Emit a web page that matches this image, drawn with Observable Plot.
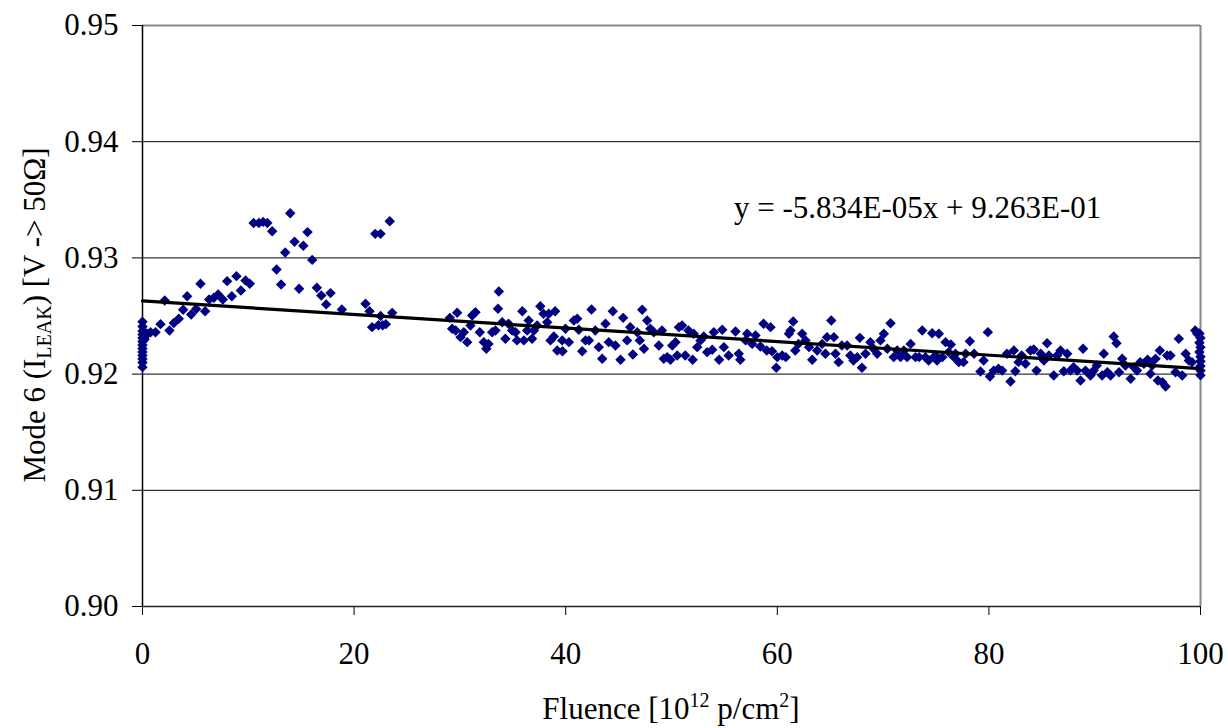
<!DOCTYPE html>
<html>
<head>
<meta charset="utf-8">
<script src="https://cdn.jsdelivr.net/npm/d3@7"></script>
<script src="https://cdn.jsdelivr.net/npm/@observablehq/plot@0.6"></script>
<style>
  html, body { margin: 0; padding: 0; background: #fff; }
  #chart { width: 1228px; height: 728px; }
</style>
</head>
<body>
<div id="chart"></div>
<script>
// ---- data ----
const fluence = [
  0,0,0,0,0,0,0,0,0,0,0,0,0,0.2,0.3,0.4,
  0.76,1.23,1.7,2.1,2.55,2.96,3.43,3.84,4.22,4.6,5.07,5.48,5.92,6.3,6.74,7.15,7.59,8.0,8.44,8.88,9.3,9.74,10.14,
  10.5,11.0,11.4,11.8,12.26,12.67,13.1,13.49,13.96,14.37,14.8,15.2,15.6,16.04,16.48,16.9,17.36,17.77,18.84,
  21.08,21.46,21.7,22.0,22.5,22.3,22.7,23.0,23.37,23.6,22.5,
  29.05,29.74,29.27,29.6,30.06,30.69,30.37,31.0,31.16,31.47,31.88,32.26,32.5,32.7,33.05,33.36,33.68,33.6,34.0,34.3,34.6,34.94,35.4,35.26,35.9,36.04,36.36,36.5,36.82,37.0,37.3,37.6,37.9,38.25,38.4,39.0,38.56,38.88,39.2,39.7,39.98,39.67,
  40.3,40.77,41.09,41.24,41.56,41.87,42.2,42.44,42.8,43.13,43.45,43.76,44.07,44.45,44.7,45.18,45.43,45.8,46.1,46.35,46.76,47.0,47.23,47.7,48.0,47.4,48.33,48.8,49.1,49.27,49.6,
  49.9,50.07,50.38,50.54,50.7,51.0,51.3,51.6,52.0,52.1,52.43,52.74,53.05,53.37,53.85,54.0,54.5,54.8,54.95,55.4,56.05,56.36,56.5,57.0,57.15,57.63,57.94,58.4,58.7,59.0,59.36,59.5,59.9,
  60.0,60.46,60.8,61.1,61.25,61.5,61.7,62.0,62.35,62.67,63.0,63.3,63.77,64.24,64.55,64.7,65.1,65.35,65.5,65.8,66.1,66.6,66.9,67.2,67.55,67.8,68.0,68.34,68.8,69.1,69.44,69.75,
  70.07,70.4,70.7,71.0,71.33,71.65,71.96,72.27,72.6,73.06,73.4,73.7,74.0,74.3,74.64,74.95,75.27,75.6,75.9,76.2,
  74.8,75.1,76.4,76.7,76.84,77.16,77.6,77.8,78.2,78.6,79.2,79.5,79.9,
  80.1,80.46,80.9,81.26,81.7,82.04,82.36,82.5,82.8,83.1,83.46,83.93,84.24,84.5,84.9,85.2,85.5,85.67,86.13,86.45,86.77,87.08,87.4,87.7,88.0,88.35,88.66,88.9,89.13,89.6,89.9,
  90.2,90.7,90.86,91.2,91.5,91.8,92.06,92.3,92.6,92.9,93.4,93.7,94.0,94.3,94.65,95.0,95.27,95.43,95.75,95.97,96.16,96.4,96.7,96.85,97.16,97.64,97.95,98.27,98.6,98.9,99.2,99.5,99.69,
  99.9,99.9,99.9,100,100,100,100,100,100,100
];
const mode6 = [
  0.9206,0.9210,0.9213,0.9216,0.9219,0.9222,0.9225,0.9228,0.9231,0.9234,0.9237,0.9241,0.9245,0.9230,0.9233,0.9235,
  0.9236,0.9236,0.9243,0.92633,0.92375,0.9244,0.92476,0.92553,0.9267,0.92513,0.9256,0.92777,0.92541,0.92642,0.92657,0.92685,0.92642,0.928,0.9267,0.92843,0.92719,0.92806,0.92777,
  0.9330,0.9330,0.9331,0.9330,0.9323,0.9290,0.92771,0.93047,0.93385,0.93139,0.92734,0.93104,0.93222,0.92983,0.92743,0.92676,0.926,0.92697,0.92556,
  0.92605,0.92541,0.92404,0.93207,0.93207,0.9242,0.9242,0.9243,0.93316,0.92527,0.9250,
  0.92484,0.92528,0.9239,0.92375,0.92318,0.92275,0.9236,0.92418,0.92504,0.92533,0.9236,0.92275,0.92218,0.9226,0.9236,0.92375,0.92711,0.92562,0.92447,0.92304,0.92433,0.92375,0.9229,0.9236,0.92541,0.9229,0.92375,0.92461,0.92304,0.92375,0.92418,0.92584,0.92519,0.92447,0.92519,0.92541,0.9229,0.92324,0.92203,0.92197,0.9239,0.9229,
  0.92275,0.92461,0.92476,0.92381,0.92197,0.9229,0.9229,0.92556,0.92375,0.92232,0.92132,0.92433,0.92275,0.92541,0.92246,0.92123,0.92484,0.9229,0.92404,0.92169,0.9236,0.9229,0.92553,0.92461,0.9239,0.92218,0.9236,0.92246,0.92375,0.92132,0.92146,
  0.92123,0.92246,0.92275,0.9216,0.92404,0.92418,0.9216,0.92375,0.92123,0.92347,0.92232,0.9229,0.92324,0.92189,0.92209,0.9236,0.92123,0.92381,0.92232,0.9216,0.92367,0.92175,0.92123,0.9229,0.92347,0.9226,0.92333,0.92238,0.92433,0.92203,0.92404,0.92197,0.92054,
  0.92146,0.9216,0.92146,0.92347,0.92375,0.92453,0.92203,0.9226,0.92347,0.9229,0.92232,0.92123,0.92203,0.9226,0.92175,0.92318,0.92461,0.92318,0.92175,0.92103,0.92246,0.92246,0.9216,0.92117,0.92146,0.92312,0.92054,0.92175,0.92275,0.92218,0.92175,0.9229,
  0.92347,0.92218,0.92438,0.92146,0.92203,0.92146,0.92203,0.92146,0.9226,0.92146,0.92146,0.92375,0.92146,0.92117,0.92352,0.9216,0.92347,0.92146,0.92275,0.92189,
  0.92146,0.92117,0.92255,0.92146,0.92175,0.92103,0.92103,0.92175,0.92283,0.92175,0.92022,0.92117,0.92361,
  0.91979,0.9203,0.92046,0.9203,0.92175,0.91936,0.92203,0.92025,0.92103,0.9216,0.92089,0.92203,0.92212,0.9203,0.92175,0.92117,0.92266,0.9216,0.91988,0.9216,0.92203,0.92025,0.92175,0.9203,0.9206,0.9203,0.91945,0.92218,0.9203,0.91988,0.9203,
  0.92074,0.91988,0.92175,0.92016,0.91988,0.92324,0.92266,0.92016,0.92132,0.92074,0.91959,0.9206,0.9203,0.92103,0.92089,0.92123,0.92002,0.92074,0.92132,0.91945,0.92203,0.9193,0.91893,0.9216,0.9216,0.92016,0.92304,0.91988,0.92175,0.92117,0.92103,0.92375,0.92347,
  0.9235,0.9227,0.9219,0.9199,0.9203,0.9207,0.9211,0.9215,0.9223,0.9231
];
// linear trend line printed on the chart
const slope = -5.834e-05;
const intercept = 9.263e-01;
const trendX = [0, 100];
const equationText = "y = -5.834E-05x + 9.263E-01";
const equationPos = {x: 55.9, y: 0.93425};
const xTicks = [0, 20, 40, 60, 80, 100];
const yTicks = [0.90, 0.91, 0.92, 0.93, 0.94, 0.95];
const gridY = [0.91, 0.92, 0.93, 0.94];

const points = fluence.map((f, i) => ({x: f, y: mode6[i]}));
const trend = trendX.map(x => ({x, y: slope * x + intercept}));

const FS = 31;

const chart = Plot.plot({
  width: 1228,
  height: 728,
  marginLeft: 142,
  marginRight: 28,
  marginTop: 25,
  marginBottom: 122,
  style: {fontSize: FS + "px", color: "#000", background: "#fff"},
  x: {domain: [0, 100], ticks: xTicks, tickSize: 9, tickPadding: 26, label: null, tickFormat: d => d},
  y: {domain: [0.90, 0.95], ticks: yTicks, tickSize: 10, tickPadding: 14, label: null, tickFormat: d3.format(".2f")},
  marks: [
    Plot.ruleY(gridY, {stroke: "#000", strokeWidth: 1}),
    Plot.ruleY([0.95], {stroke: "#888", strokeWidth: 2}),
    Plot.ruleX([100], {stroke: "#888", strokeWidth: 2}),
    Plot.ruleY([0.90], {stroke: "#222", strokeWidth: 1.5}),
    Plot.ruleX([0], {stroke: "#000", strokeWidth: 1.5}),
    Plot.dot(points, {x: "x", y: "y", symbol: "diamond2", r: 4.7, fill: "#000080", stroke: "none"}),
    Plot.line(trend, {x: "x", y: "y", stroke: "#000", strokeWidth: 3.2}),
    Plot.text([equationPos], {x: "x", y: "y", text: () => equationText, textAnchor: "start", fontSize: FS, fill: "#000"})
  ]
});

const svg = d3.select(chart);
// y-axis title with subscript
const yl = svg.append("text")
  .attr("transform", "translate(45,315) rotate(-90)")
  .attr("text-anchor", "middle")
  .attr("font-size", FS)
  .attr("fill", "#000");
yl.append("tspan").text("Mode 6 (I");
yl.append("tspan").attr("font-size", 20).attr("dy", 6).text("LEAK");
yl.append("tspan").attr("dy", -6).text(") [V -> 50\u03A9]");

// x-axis title with superscripts
const xl = svg.append("text")
  .attr("x", 671)
  .attr("y", 719)
  .attr("text-anchor", "middle")
  .attr("font-size", FS)
  .attr("fill", "#000");
xl.append("tspan").text("Fluence [10");
xl.append("tspan").attr("font-size", 20).attr("dy", -12).text("12");
xl.append("tspan").attr("dy", 12).text(" p/cm");
xl.append("tspan").attr("font-size", 20).attr("dy", -12).text("2");
xl.append("tspan").attr("dy", 12).text("]");

// serif face on every text element
svg.attr("font-family", "Liberation Serif");
svg.selectAll("text").attr("font-family", "Liberation Serif");
svg.selectAll("g").filter(function() { return this.hasAttribute("font-family"); }).attr("font-family", "Liberation Serif");

document.getElementById("chart").appendChild(chart);
</script>
</body>
</html>
